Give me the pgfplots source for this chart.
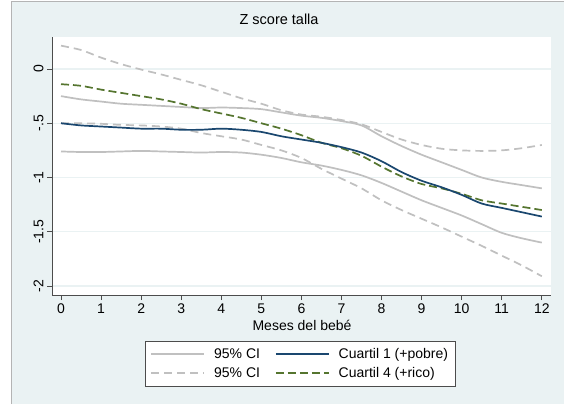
\documentclass[border=0pt]{standalone}
\usepackage{pgfplots}
\pgfplotsset{compat=1.18}
\usepackage{fontspec}
\setmainfont{Liberation Sans}
\definecolor{bgcol}{RGB}{234,242,243}
\definecolor{gridcol}{RGB}{234,242,243}
\definecolor{cinavy}{RGB}{26,71,111}
\definecolor{cigreen}{RGB}{85,117,47}
\definecolor{cigray}{RGB}{192,192,192}
\definecolor{framegray}{RGB}{180,180,180}
\begin{document}
\begin{tikzpicture}[x=1pt,y=1pt]
\useasboundingbox (0,0) rectangle (564,404);
\fill[bgcol] (11,0) rectangle (564,402);
\draw[framegray,line width=1pt] (11,0) -- (11,402) -- (564,402);
\begin{axis}[
  at={(52pt,109pt)}, anchor=south west,
  scale only axis, width=499pt, height=258pt,
  xmin=-0.225, xmax=12.23, ymin=-2.083, ymax=0.295,
  axis background/.style={fill=white},
  axis x line*=bottom, axis y line*=left,
  axis line style={black!70, line width=0.8pt, -},
  tick style={black!70, line width=0.8pt},
  tick align=outside, major tick length=5pt,
  xtick={0,1,2,3,4,5,6,7,8,9,10,11,12},
  xticklabels={0,1,2,3,4,5,6,7,8,9,10,11,12},
  ytick={0,-0.5,-1,-1.5,-2},
  yticklabels={0,-.5,-1,-1.5,-2},
  yticklabel style={rotate=90, anchor=south},
  ymajorgrids, grid style={gridcol, line width=1.2pt},
  font=\fontsize{14pt}{16pt}\selectfont,
  ticklabel style={font=\fontsize{14pt}{16pt}\selectfont},
  xlabel={Meses del bebé},
  xlabel style={at={(axis description cs:0.501,-0.1163)}, anchor=center},
  title={Z score talla},
  title style={at={(axis description cs:0.455,1.0465)}, anchor=center, font=\fontsize{14.5pt}{16pt}\selectfont},
  legend columns=2,
  legend cell align=left,
  legend image code/.code={\draw[#1] (0pt,0pt) -- (53pt,0pt);},
  legend style={
    at={(axis description cs:0.1864,-0.178)}, anchor=north west,
    draw=black!70, line width=0.8pt, fill=white,
    inner xsep=5pt, inner ysep=5pt,
    column sep=7pt, row sep=3pt,
    /tikz/every even column/.append style={column sep=13pt},
    nodes={inner sep=2pt, text height=10pt, text depth=2pt, anchor=west, line width=0.8pt},
    font=\fontsize{14pt}{16pt}\selectfont,
  },
  every axis plot/.append style={line width=1.7pt, smooth, tension=0.5},
]
% upper solid CI
\addplot[cigray, forget plot] coordinates {
(0,-0.25) (0.5,-0.28) (1,-0.30) (1.5,-0.32) (2,-0.33) (2.5,-0.34) (3,-0.35) (3.5,-0.36) (4,-0.355) (4.5,-0.36) (5,-0.37) (5.5,-0.40) (6,-0.43) (6.5,-0.45) (7,-0.48) (7.5,-0.52) (8,-0.62) (8.5,-0.71) (9,-0.79) (9.5,-0.86) (10,-0.93) (10.5,-1.00) (11,-1.04) (11.5,-1.07) (12,-1.10)
};
% lower solid CI
\addplot[cigray, forget plot] coordinates {
(0,-0.76) (0.5,-0.765) (1,-0.765) (1.5,-0.76) (2,-0.755) (2.5,-0.76) (3,-0.765) (3.5,-0.77) (4,-0.765) (4.5,-0.77) (5,-0.79) (5.5,-0.82) (6,-0.86) (6.5,-0.89) (7,-0.93) (7.5,-0.98) (8,-1.05) (8.5,-1.13) (9,-1.21) (9.5,-1.28) (10,-1.35) (10.5,-1.43) (11,-1.51) (11.5,-1.56) (12,-1.60)
};
% upper dashed CI
\addplot[cigray, dash pattern=on 8pt off 5pt, forget plot] coordinates {
(0,0.215) (0.5,0.175) (1,0.105) (1.5,0.045) (2,-0.005) (2.5,-0.05) (3,-0.10) (3.5,-0.15) (4,-0.21) (4.5,-0.27) (5,-0.32) (5.5,-0.38) (6,-0.42) (6.5,-0.44) (7,-0.47) (7.5,-0.51) (8,-0.58) (8.5,-0.65) (9,-0.70) (9.5,-0.735) (10,-0.75) (10.5,-0.755) (11,-0.75) (11.5,-0.73) (12,-0.70)
};
% lower dashed CI
\addplot[cigray, dash pattern=on 8pt off 5pt, forget plot] coordinates {
(0,-0.50) (0.5,-0.50) (1,-0.505) (1.5,-0.515) (2,-0.52) (2.5,-0.53) (3,-0.55) (3.5,-0.59) (4,-0.62) (4.5,-0.65) (5,-0.70) (5.5,-0.75) (6,-0.82) (6.5,-0.92) (7,-1.01) (7.5,-1.10) (8,-1.21) (8.5,-1.30) (9,-1.38) (9.5,-1.46) (10,-1.545) (10.5,-1.63) (11,-1.72) (11.5,-1.81) (12,-1.91)
};
% Cuartil 4
\addplot[cigreen, dash pattern=on 8pt off 4pt, forget plot] coordinates {
(0,-0.14) (0.5,-0.155) (1,-0.19) (1.5,-0.22) (2,-0.25) (2.5,-0.28) (3,-0.32) (3.5,-0.37) (4,-0.41) (4.5,-0.45) (5,-0.50) (5.5,-0.55) (6,-0.61) (6.5,-0.68) (7,-0.73) (7.5,-0.80) (8,-0.90) (8.5,-0.99) (9,-1.06) (9.5,-1.10) (10,-1.15) (10.5,-1.21) (11,-1.24) (11.5,-1.27) (12,-1.30)
};
% Cuartil 1
\addplot[cinavy, forget plot] coordinates {
(0,-0.50) (0.5,-0.52) (1,-0.53) (1.5,-0.54) (2,-0.55) (2.5,-0.55) (3,-0.56) (3.5,-0.56) (4,-0.55) (4.5,-0.56) (5,-0.58) (5.5,-0.62) (6,-0.65) (6.5,-0.68) (7,-0.72) (7.5,-0.77) (8,-0.85) (8.5,-0.95) (9,-1.03) (9.5,-1.09) (10,-1.16) (10.5,-1.24) (11,-1.28) (11.5,-1.32) (12,-1.36)
};
\addlegendimage{cigray, line width=1.7pt}
\addlegendentry{95\% CI}
\addlegendimage{cinavy, line width=1.7pt}
\addlegendentry{Cuartil 1 (+pobre)}
\addlegendimage{cigray, line width=1.7pt, dash pattern=on 8pt off 5pt}
\addlegendentry{95\% CI}
\addlegendimage{cigreen, line width=1.7pt, dash pattern=on 8pt off 4pt}
\addlegendentry{Cuartil 4 (+rico)}
\end{axis}
\end{tikzpicture}
\end{document}
